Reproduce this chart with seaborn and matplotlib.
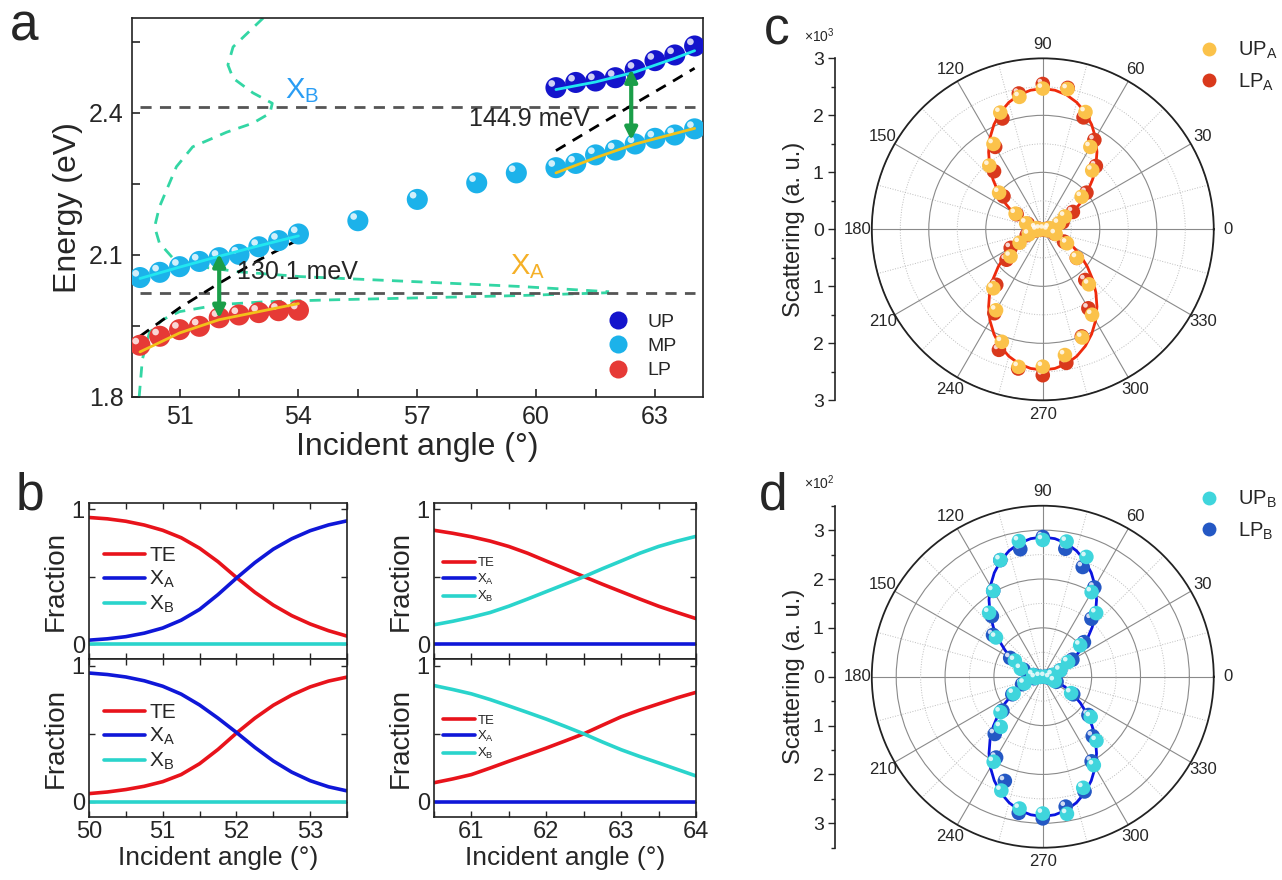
import numpy as np
import pandas as pd
import matplotlib
matplotlib.use("Agg")
import matplotlib.pyplot as plt
import matplotlib.transforms as mtransforms
from matplotlib.lines import Line2D
from matplotlib.ticker import MultipleLocator, FixedLocator
import seaborn as sns

sns.set_theme(style="ticks")
plt.rcParams["font.family"] = ["Liberation Sans", "DejaVu Sans"]
plt.rcParams["mathtext.fontset"] = "custom"
plt.rcParams["mathtext.rm"] = "Liberation Sans"
plt.rcParams["mathtext.it"] = "Liberation Sans:italic"
plt.rcParams["axes.linewidth"] = 1.2
plt.rcParams["axes.edgecolor"] = "#222222"

# ---------------- panel a: dispersion ----------------
ang_lp = [50, 50.5, 51, 51.5, 52, 52.5, 53, 53.5, 54]
e_lp = [1.909, 1.928, 1.942, 1.949, 1.967, 1.973, 1.978, 1.982, 1.983]
ang_mp = [50, 50.5, 51, 51.5, 52, 52.5, 53, 53.5, 54, 55.5, 57, 58.5, 59.5,
          60.5, 61, 61.5, 62, 62.5, 63, 63.5, 64]
e_mp = [2.052, 2.063, 2.075, 2.086, 2.094, 2.101, 2.117, 2.130, 2.144, 2.172,
        2.217, 2.252, 2.273, 2.284, 2.293, 2.311, 2.321, 2.334, 2.346, 2.353, 2.366]
ang_up = [60.5, 61, 61.5, 62, 62.5, 63, 63.5, 64]
e_up = [2.453, 2.464, 2.467, 2.474, 2.491, 2.510, 2.522, 2.541]

fit1_ang = [50, 51, 52, 53, 54]
fit1_upper = [2.050, 2.074, 2.097, 2.119, 2.140]
fit1_lower = [1.895, 1.935, 1.963, 1.980, 1.997]
fit1_photon = [1.928, 1.988, 2.040, 2.089, 2.132]
fit2_ang = [60.5, 61.5, 62.5, 63.5, 64]
fit2_upper = [2.449, 2.465, 2.486, 2.515, 2.531]
fit2_lower = [2.273, 2.305, 2.334, 2.356, 2.367]
fit2_photon = [2.320, 2.370, 2.420, 2.469, 2.494]

exciton_a = 2.020
exciton_b = 2.413

curve_up_ang = [53.11, 52.35, 52.22, 52.35, 52.85, 53.34, 53.28, 52.85, 52.19, 51.33,
                50.92, 50.49, 50.37, 50.49, 50.82, 51.51, 52.52, 54.05, 57.02, 59.63, 61.84]
curve_up_e = [2.600, 2.539, 2.501, 2.473, 2.442, 2.420, 2.399, 2.378, 2.359, 2.328,
              2.286, 2.201, 2.159, 2.125, 2.094, 2.075, 2.064, 2.054, 2.043, 2.033, 2.022]
curve_lo_ang = [49.98, 50.06, 50.24, 50.57, 51.0, 52.02, 53.2, 54.88, 57.0, 59.6, 61.84]
curve_lo_e = [1.800, 1.879, 1.936, 1.963, 1.980, 1.995, 2.001, 2.005, 2.009, 2.014, 2.020]

# ---------------- panel b: Hopfield fractions ----------------
comp_labels = ["TE", r"X$_\mathrm{A}$", r"X$_\mathrm{B}$"]
frac_colors = ["#e8131b", "#0f17d8", "#2ad4cc"]
ang_left = [50, 50.25, 50.5, 50.75, 51, 51.25, 51.5, 51.75, 52, 52.25, 52.5, 52.75, 53, 53.25, 53.5]
tl_te = [0.940, 0.930, 0.912, 0.884, 0.845, 0.790, 0.712, 0.612, 0.495, 0.385, 0.290, 0.212, 0.150, 0.100, 0.060]
tl_xa = [0.030, 0.040, 0.056, 0.082, 0.120, 0.178, 0.258, 0.368, 0.490, 0.605, 0.705, 0.782, 0.842, 0.885, 0.915]
tl_xb = [0.0] * 15
bl_te = [0.060, 0.072, 0.090, 0.114, 0.148, 0.200, 0.280, 0.385, 0.505, 0.615, 0.710, 0.785, 0.845, 0.888, 0.917]
bl_xa = [0.947, 0.936, 0.918, 0.890, 0.850, 0.792, 0.712, 0.615, 0.510, 0.400, 0.300, 0.218, 0.155, 0.110, 0.080]
bl_xb = [0.0] * 15
ang_right = [60.5, 60.75, 61, 61.25, 61.5, 61.75, 62, 62.25, 62.5, 62.75, 63, 63.25, 63.5, 63.75, 64]
tr_te = [0.845, 0.823, 0.797, 0.765, 0.725, 0.675, 0.617, 0.56, 0.502, 0.445, 0.39, 0.335, 0.282, 0.235, 0.19]
tr_xa = [0.0] * 15
tr_xb = [0.144, 0.17, 0.2, 0.235, 0.282, 0.335, 0.39, 0.445, 0.50, 0.56, 0.617, 0.675, 0.725, 0.765, 0.80]
br_te = [0.14, 0.168, 0.2, 0.248, 0.298, 0.346, 0.395, 0.447, 0.50, 0.563, 0.625, 0.675, 0.72, 0.765, 0.805]
br_xa = [0.0] * 15
br_xb = [0.855, 0.826, 0.794, 0.752, 0.705, 0.657, 0.608, 0.555, 0.50, 0.44, 0.383, 0.333, 0.286, 0.238, 0.19]

# ---------------- panels c, d: polar scattering ----------------
pol_deg = list(range(0, 360, 10))
up_a = [0.03, 0.12, 0.30, 0.45, 0.89, 1.35, 1.67, 2.19, 2.50, 2.47, 2.36, 2.18, 1.73, 1.46, 1.00, 0.55, 0.31, 0.12,
        0.04, 0.10, 0.26, 0.47, 0.74, 1.35, 1.64, 2.10, 2.45, 2.41, 2.24, 2.02, 1.73, 1.26, 0.78, 0.49, 0.24, 0.10]
lp_a = [0.02, 0.10, 0.37, 0.61, 1.00, 1.45, 1.81, 2.09, 2.52, 2.55, 2.42, 2.07, 1.67, 1.33, 0.90, 0.53, 0.28, 0.08,
        0.02, 0.12, 0.30, 0.65, 0.83, 1.27, 1.70, 2.25, 2.48, 2.56, 2.38, 2.00, 1.60, 1.16, 0.78, 0.43, 0.22, 0.08]
up_b = [0.05, 0.20, 0.38, 0.60, 1.00, 1.70, 2.00, 2.61, 2.81, 2.80, 2.82, 2.54, 2.03, 1.71, 1.25, 0.66, 0.48, 0.20,
        0.05, 0.15, 0.40, 0.69, 1.13, 1.34, 2.01, 2.48, 2.74, 2.80, 2.85, 2.42, 2.09, 1.71, 1.28, 0.67, 0.26, 0.15]
lp_b = [0.05, 0.18, 0.38, 0.70, 1.10, 1.55, 2.11, 2.39, 2.66, 2.86, 2.65, 2.54, 2.03, 1.62, 1.33, 0.77, 0.42, 0.18,
        0.05, 0.18, 0.45, 0.72, 1.08, 1.53, 1.91, 2.27, 2.83, 2.90, 2.70, 2.50, 2.00, 1.59, 1.22, 0.72, 0.30, 0.12]
# fitted curve, read every 5 deg over 0..90 (the lobes are symmetric)
fit_deg = list(range(0, 361, 5))
fit_a_q = [0, 0.019, 0.075, 0.165, 0.29, 0.442, 0.618, 0.813, 1.02, 1.235, 1.45, 1.657, 1.853, 2.028, 2.181,
           2.305, 2.396, 2.45, 2.47]
fit_b_q = [0, 0.022, 0.086, 0.19, 0.335, 0.512, 0.715, 0.941, 1.181, 1.43, 1.679, 1.919, 2.145, 2.348, 2.525,
           2.668, 2.774, 2.837, 2.86]


def full_turn(q):
    half = q + q[-2::-1]
    return half + half[1:]


fig = plt.figure(figsize=(12.82, 8.8), dpi=100)


def balls(ax, x, y, color, size, z=5):
    sns.scatterplot(x=x, y=y, ax=ax, color=color, s=size, edgecolor="none", linewidth=0,
                    zorder=z, legend=False)
    d = size ** 0.5
    hl = mtransforms.offset_copy(ax.transData, fig=fig, x=-0.2 * d, y=0.2 * d, units="points")
    ax.scatter(x, y, s=size * 0.10, color="white", alpha=0.8, edgecolors="none", transform=hl, zorder=z + 1)


# ---- a ----
ax = fig.add_axes([0.103, 0.549, 0.445, 0.4305])
green = "#33d6a4"
sns.lineplot(x=curve_up_ang, y=curve_up_e, sort=False, estimator=None, ax=ax, color=green, lw=2)
ax.lines[-1].set_dashes((4, 3))
sns.lineplot(x=curve_lo_ang, y=curve_lo_e, sort=False, estimator=None, ax=ax, color=green, lw=2)
ax.lines[-1].set_dashes((4, 3))
for lvl in (exciton_a, exciton_b):
    ax.plot([50, 64], [lvl, lvl], color="#555555", lw=2, dashes=(4, 3))
for fx, fp in ((fit1_ang, fit1_photon), (fit2_ang, fit2_photon)):
    ax.plot(fx, fp, color="black", lw=2, dashes=(4, 3))
balls(ax, ang_lp, e_lp, "#e63a36", 230)
balls(ax, ang_mp, e_mp, "#1cb2ea", 230)
balls(ax, ang_up, e_up, "#1414cc", 230)
for fx, fu, fl in ((fit1_ang, fit1_upper, fit1_lower), (fit2_ang, fit2_upper, fit2_lower)):
    ax.plot(fx, fu, color="#22e6f0", lw=2, zorder=8)
    ax.plot(fx, fl, color="#f2c21a", lw=2, zorder=8)
arrow_kw = dict(arrowstyle="<|-|>", color="#1a9e48", lw=3, mutation_scale=18, shrinkA=0, shrinkB=0)
ax.annotate("", xy=(52.0, 1.966), xytext=(52.0, 2.102), arrowprops=arrow_kw, zorder=9)
ax.annotate("", xy=(62.4, 2.342), xytext=(62.4, 2.492), arrowprops=arrow_kw, zorder=9)
ax.text(52.45, 2.064, "130.1 meV", fontsize=18, va="center", ha="left", zorder=9)
ax.text(58.3, 2.387, "144.9 meV", fontsize=18, va="center", ha="left", zorder=9)
ax.text(53.65, 2.447, r"X$_\mathrm{B}$", fontsize=21, color="#2a9df4", va="center")
ax.text(59.35, 2.075, r"X$_\mathrm{A}$", fontsize=21, color="#f5b027", va="center")
ax.set_xlim(49.8, 64.2)
ax.set_ylim(1.8, 2.6)
ax.set_xticks([51, 54, 57, 60, 63])
ax.set_yticks([1.8, 2.1, 2.4])
ax.xaxis.set_minor_locator(MultipleLocator(1.5))
ax.yaxis.set_minor_locator(MultipleLocator(0.15))
ax.tick_params(which="both", direction="in", length=6, width=1.2, labelsize=18, pad=6)
ax.set_xlabel("Incident angle (°)", fontsize=23, labelpad=2)
ax.set_ylabel("Energy (eV)", fontsize=23, labelpad=4)
leg_a = [Line2D([], [], ls="none", marker="o", ms=13, mec="none", mfc=c) for c in ("#1414cc", "#1cb2ea", "#e63a36")]
ax.legend(leg_a, ["UP", "MP", "LP"], loc="lower right", bbox_to_anchor=(0.985, 0.0), frameon=False,
          fontsize=14, handletextpad=0.5, labelspacing=0.35)


# ---- b ----
def frac_panel(rect, x, te, xa, xb, xlim, xticks, leg_size, leg_len, show_x):
    axb = fig.add_axes(rect)
    df = pd.DataFrame({"angle": list(x) * 3, "frac": list(te) + list(xa) + list(xb),
                       "comp": [c for c in comp_labels for _ in x]})
    sns.lineplot(data=df, x="angle", y="frac", hue="comp", hue_order=comp_labels,
                 palette=frac_colors, lw=2.6, ax=axb)
    axb.set_xlim(*xlim)
    axb.set_ylim(-0.11, 1.05)
    axb.set_yticks([0, 1])
    axb.set_yticklabels(["0", "1"])
    axb.yaxis.set_minor_locator(MultipleLocator(0.5))
    axb.set_xticks(xticks)
    axb.xaxis.set_minor_locator(MultipleLocator(0.5))
    axb.tick_params(which="both", direction="in", length=4, width=1, top=True, right=True, labelsize=17, pad=3)
    axb.set_ylabel("Fraction", fontsize=20, labelpad=2)
    if show_x:
        axb.set_xlabel("Incident angle (°)", fontsize=19, labelpad=2)
    else:
        axb.set_xlabel("")
        axb.tick_params(labelbottom=False)
    axb.legend(loc="center left", bbox_to_anchor=(0.0, 0.5), frameon=False, fontsize=leg_size,
               handlelength=leg_len, handletextpad=0.2, labelspacing=0.18, borderaxespad=0.3)
    return axb


frac_panel([0.0694, 0.2511, 0.2013, 0.1777], ang_left, tl_te, tl_xa, tl_xb, (50, 53.5), [50, 51, 52, 53], 15, 2.0, False)
frac_panel([0.0694, 0.0719, 0.2013, 0.1792], ang_left, bl_te, bl_xa, bl_xb, (50, 53.5), [50, 51, 52, 53], 15, 2.0, True)
frac_panel([0.3385, 0.2511, 0.2044, 0.1777], ang_right, tr_te, tr_xa, tr_xb, (60.5, 64), [61, 62, 63, 64], 9.5, 2.4, False)
frac_panel([0.3385, 0.0719, 0.2044, 0.1792], ang_right, br_te, br_xa, br_xb, (60.5, 64), [61, 62, 63, 64], 9.5, 2.4, True)


# ---- c, d ----
def polar_panel(rect, rmax, exp, up, lp, fit, c_up, c_lp, c_fit, lab_up, lab_lp, leg_y):
    axp = fig.add_axes(rect, projection="polar")
    th = np.deg2rad(pol_deg)
    sns.lineplot(x=np.deg2rad(fit_deg), y=fit, ax=axp, color=c_fit, lw=2, sort=False, estimator=None, zorder=3)
    balls(axp, th, lp, c_lp, 110)
    balls(axp, th, up, c_up, 110, z=7)
    axp.set_ylim(0, rmax)
    axp.set_yticks([1, 2, 3])
    axp.set_yticklabels([])
    axp.yaxis.set_minor_locator(FixedLocator([0.5, 1.5, 2.5]))
    axp.set_xticks(np.deg2rad(range(0, 360, 30)))
    axp.set_xticklabels([str(v) for v in range(0, 360, 30)], fontsize=12)
    axp.xaxis.set_minor_locator(FixedLocator(np.deg2rad(range(15, 360, 30))))
    axp.grid(which="major", color="#8a8a8a", lw=0.8, ls="-")
    axp.grid(which="minor", color="#bdbdbd", lw=0.7, ls=":")
    axp.tick_params(axis="x", pad=-3)
    axp.spines["polar"].set_linewidth(1.3)
    axp.spines["polar"].set_color("#222222")
    axp.set_xlabel("")
    axp.set_ylabel("")

    axy = fig.add_axes([0.6513, rect[1], 0.0001, rect[3]])
    axy.set_ylim(-rmax, rmax)
    axy.set_yticks([-3, -2, -1, 0, 1, 2, 3])
    axy.set_yticklabels(["3", "2", "1", "0", "1", "2", "3"])
    axy.yaxis.set_minor_locator(MultipleLocator(0.5))
    axy.set_xticks([])
    for s in ("top", "right", "bottom"):
        axy.spines[s].set_visible(False)
    axy.patch.set_visible(False)
    axy.tick_params(which="major", direction="out", length=5, width=1, labelsize=14, pad=3)
    axy.tick_params(which="minor", direction="out", length=3, width=1)
    axy.set_ylabel("Scattering (a. u.)", fontsize=17, labelpad=6)
    axy.text(0.5, 1.04, r"×10$^{%d}$" % exp, transform=axy.transAxes, ha="right", va="bottom", fontsize=10)

    hd = [Line2D([], [], ls="none", marker="o", ms=10, mec="none", mfc=c) for c in (c_up, c_lp)]
    fig.legend(hd, [lab_up, lab_lp], loc="upper left", bbox_to_anchor=(0.913, leg_y), frameon=False,
               fontsize=14.5, handletextpad=0.45, labelspacing=0.5)


polar_panel([0.680, 0.5451, 0.2668, 0.3886], 3, 3, up_a, lp_a, full_turn(fit_a_q), "#fbc24a", "#d9391c", "#ef2a0c",
            r"UP$_\mathrm{A}$", r"LP$_\mathrm{A}$", 0.975)
polar_panel([0.680, 0.0367, 0.2668, 0.3886], 3.5, 2, up_b, lp_b, full_turn(fit_b_q), "#3fd5dc", "#2458c4", "#0a14e0",
            r"UP$_\mathrm{B}$", r"LP$_\mathrm{B}$", 0.465)

for lab, x, y in (("a", 0.008, 0.9545), ("b", 0.012, 0.4205), ("c", 0.596, 0.949), ("d", 0.592, 0.4205)):
    fig.text(x, y, lab, fontsize=37, va="baseline", ha="left")

fig.savefig("out.png", dpi=100)
